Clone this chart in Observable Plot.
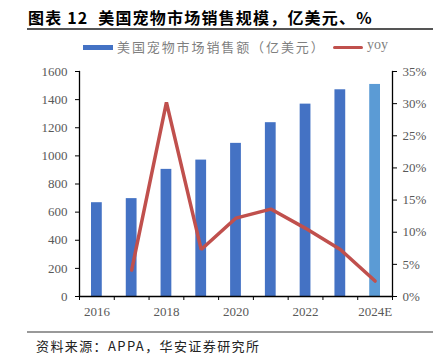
<!DOCTYPE html>
<html><head><meta charset="utf-8">
<script src="https://cdn.jsdelivr.net/npm/d3@7"></script>
<script src="https://cdn.jsdelivr.net/npm/@observablehq/plot@0.6"></script>
<style>
html,body{margin:0;padding:0;background:#fff;}
#wrap{position:relative;width:443px;height:356px;overflow:hidden;background:#fff;}
#wrap svg{position:absolute;left:0;top:0;background:transparent;}
.t{position:absolute;white-space:nowrap;}
</style></head>
<body><div id="wrap">
<div class="t" style="left:28px;top:5px;font:bold 16px 'Noto Sans CJK SC';color:#000;letter-spacing:1.2px">图表 12&nbsp; 美国宠物市场销售规模，亿美元、%</div>
<div style="position:absolute;left:27px;top:28px;width:406px;height:1.5px;background:#555"></div>
<div style="position:absolute;left:83px;top:45px;width:30px;height:5px;background:#4472C4"></div>
<div class="t" style="left:117px;top:37px;font:13px 'Noto Sans CJK SC';color:#7f7f7f;letter-spacing:1.9px">美国宠物市场销售额（亿美元）</div>
<div style="position:absolute;left:333px;top:45.5px;width:30px;height:3.5px;background:#C0504D;border-radius:2px"></div>
<div class="t" style="left:367px;top:37px;font:14px 'Liberation Serif';color:#7f7f7f">yoy</div>
<div style="position:absolute;left:27px;top:331px;width:406px;height:2px;background:#999"></div>
<div class="t" style="left:36px;top:336px;font:13px 'Noto Sans CJK SC';color:#222;letter-spacing:1.4px">资料来源：APPA，华安证券研究所</div>
</div>
<script>
const categories = ["2016","2017","2018","2019","2020","2021","2022","2023","2024E"];
const sales = [667, 696, 904, 970, 1089, 1236, 1368, 1470, 1508];
const yoy = [null, 0.041, 0.302, 0.073, 0.122, 0.136, 0.106, 0.073, 0.024];
const leftTicks = [0,200,400,600,800,1000,1200,1400,1600];
const rightTicks = [0,0.05,0.10,0.15,0.20,0.25,0.30,0.35];
const xLabelIdx = [0,2,4,6,8];

const barData = categories.map((c,i)=>({i, c, v: sales[i], est: c.endsWith("E")}));
const lineData = categories.map((c,i)=>({i, c, r: yoy[i]})).filter(d=>d.r!=null);

const W=443,H=356, mt=71, mb=60, ml=79, mr=51;
const font = "'Liberation Serif', serif";
const common = {width:W, height:H, marginTop:mt, marginBottom:mb, marginLeft:ml, marginRight:mr,
  style:{fontFamily:font, fontSize:"13px", color:"#595959", background:"transparent", overflow:"visible"}};

const p1 = Plot.plot({...common,
  x:{type:"linear", domain:[0,9], axis:null, label:null},
  y:{domain:[0,1600], axis:null, label:null},
  marks:[
    Plot.rectY(barData, {x1:"i", x2: d=>d.i+1, y:"v", fill: d=>d.est?"#5B9BD5":"#4472C4", insetLeft:12, insetRight:12}),
    Plot.axisY({ticks:leftTicks, tickFormat:d=>String(d), tickSize:4, tickPadding:8, anchor:"left", stroke:"#000", fill:"#595959", fontSize:13, label:null}),
    Plot.axisX({ticks:d3.range(10), tickFormat:()=>"", tickSize:4, anchor:"bottom", stroke:"#000", label:null}),
    Plot.axisX({ticks:xLabelIdx.map(i=>i+0.5), tickFormat:d=>categories[d-0.5], tickSize:0, tickPadding:10, anchor:"bottom", fill:"#595959", fontSize:13, label:null}),
    Plot.frame({anchor:"left", stroke:"#000", strokeWidth:1.3}),
    Plot.frame({anchor:"bottom", stroke:"#000", strokeWidth:1.3})
  ]});

const p2 = Plot.plot({...common,
  x:{type:"linear", domain:[0,9], axis:null, label:null},
  y:{domain:[0,0.35], axis:null, label:null},
  marks:[
    Plot.line(lineData, {x: d=>d.i+0.5, y:"r", stroke:"#C0504D", strokeWidth:3.5, strokeLinejoin:"miter"}),
    Plot.axisY({ticks:rightTicks, tickFormat:d=>Math.round(d*100)+"%", tickSize:4, tickPadding:6, anchor:"right", stroke:"#000", fill:"#595959", fontSize:13, label:null}),
    Plot.frame({anchor:"right", stroke:"#000", strokeWidth:1.3})
  ]});

const wrap = document.getElementById("wrap");
wrap.insertBefore(p1, wrap.firstChild);
wrap.insertBefore(p2, p1.nextSibling);
</script>
</body></html>
